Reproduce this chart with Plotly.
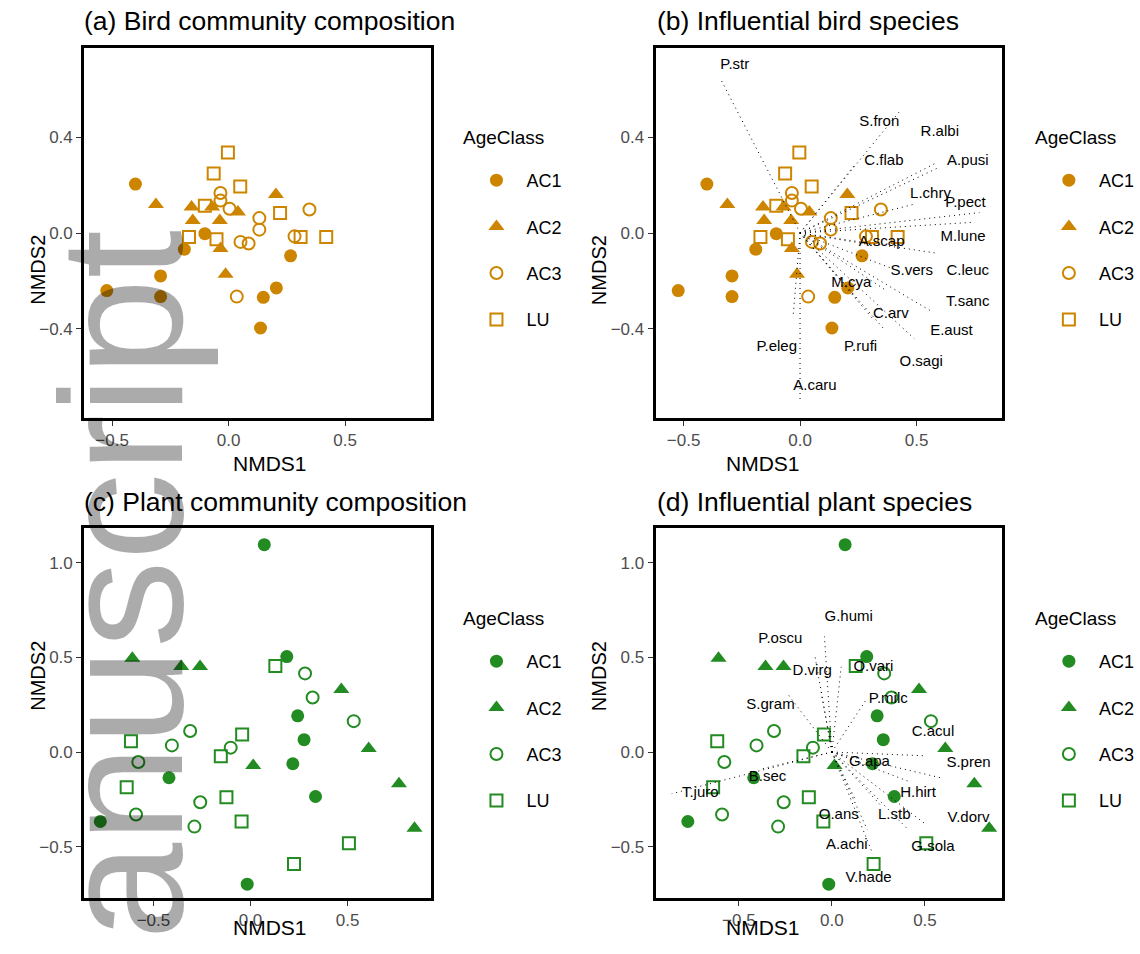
import plotly.graph_objects as go

ORANGE = "#CD8500"
GREEN = "#228B22"
FONT = "Liberation Sans, Arial, sans-serif"

groups = ["AC1", "AC2", "AC3", "LU"]

# ---- Bird NMDS site scores ----
bird_ac1_x = [-0.40, -0.523, -0.292, -0.292, -0.190, -0.102, 0.266, 0.205, 0.149, 0.137]
bird_ac1_y = [0.204, -0.240, -0.179, -0.265, -0.068, -0.003, -0.095, -0.229, -0.268, -0.396]
bird_ac2_x = [-0.312, -0.159, -0.154, -0.071, -0.038, 0.040, 0.203, -0.035, -0.013]
bird_ac2_y = [0.119, 0.108, 0.052, 0.108, 0.052, 0.087, 0.160, -0.065, -0.172]
bird_ac3_x = [-0.035, -0.035, 0.004, 0.132, 0.132, 0.051, 0.086, 0.347, 0.283, 0.035]
bird_ac3_y = [0.167, 0.135, 0.101, 0.062, 0.014, -0.037, -0.044, 0.098, -0.014, -0.265]
bird_lu_x = [-0.003, -0.064, 0.050, -0.102, -0.170, -0.052, 0.221, 0.309, 0.419]
bird_lu_y = [0.335, 0.248, 0.194, 0.114, -0.017, -0.026, 0.083, -0.017, -0.017]

# ---- Influential bird species (vector ends and label positions) ----
bird_species = ["P.str", "S.fron", "C.flab", "R.albi", "A.pusi", "L.chry", "P.pect", "M.lune",
                "A.scap", "C.leuc", "S.vers", "T.sanc", "E.aust", "O.sagi", "C.arv", "M.cya",
                "P.rufi", "P.eleg", "A.caru"]
bird_end_x = [-0.34, 0.43, 0.24, 0.58, 0.60, 0.49, 0.77, 0.75, 0.31, 0.58, 0.40, 0.57, 0.49,
              0.36, 0.31, 0.37, 0.25, -0.03, 0.0]
bird_end_y = [0.64, 0.51, 0.29, 0.29, 0.275, 0.12, 0.085, 0.045, -0.05, -0.083, -0.15, -0.33,
              -0.44, -0.40, -0.355, -0.24, -0.28, -0.35, -0.70]
bird_lab_x = [-0.28, 0.34, 0.36, 0.60, 0.72, 0.56, 0.71, 0.70, 0.35, 0.72, 0.48, 0.72, 0.65,
              0.52, 0.39, 0.22, 0.26, -0.10, 0.064]
bird_lab_y = [0.70, 0.46, 0.30, 0.42, 0.30, 0.16, 0.125, -0.017, -0.037, -0.16, -0.16, -0.29,
              -0.41, -0.54, -0.34, -0.21, -0.475, -0.475, -0.64]

# ---- Plant NMDS site scores ----
plant_ac1_x = [0.071, 0.187, 0.243, 0.276, 0.218, 0.335, -0.420, -0.774, -0.017]
plant_ac1_y = [1.095, 0.504, 0.191, 0.065, -0.062, -0.235, -0.136, -0.367, -0.698]
plant_ac2_x = [-0.609, -0.357, -0.260, 0.468, 0.609, 0.765, 0.845, 0.014]
plant_ac2_y = [0.495, 0.451, 0.451, 0.330, 0.018, -0.168, -0.403, -0.071]
plant_ac3_x = [0.281, 0.320, 0.532, -0.311, -0.405, -0.102, -0.578, -0.259, -0.590, -0.289]
plant_ac3_y = [0.415, 0.288, 0.163, 0.111, 0.035, 0.023, -0.053, -0.265, -0.330, -0.394]
plant_lu_x = [0.128, -0.616, -0.043, -0.153, -0.638, -0.124, -0.046, 0.507, 0.224]
plant_lu_y = [0.454, 0.057, 0.092, -0.023, -0.186, -0.239, -0.367, -0.482, -0.592]

# ---- Influential plant species ----
plant_species = ["G.humi", "P.oscu", "D.virg", "O.vari", "P.milc", "S.gram", "C.acul", "S.pren",
                 "G.apa", "B.sec", "T.juro", "H.hirt", "V.dorv", "O.ans", "L.stb", "A.achi",
                 "G.sola", "V.hade"]
plant_end_x = [-0.04, -0.09, -0.06, 0.05, 0.18, -0.24, 0.50, 0.60, 0.12, -0.38, -0.86, 0.425,
               0.495, 0.13, 0.27, 0.19, 0.40, 0.22]
plant_end_y = [0.61, 0.50, 0.33, 0.45, 0.27, 0.31, -0.02, -0.14, -0.04, -0.09, -0.22, -0.16,
               -0.375, -0.26, -0.29, -0.41, -0.40, -0.54]
plant_lab_x = [0.09, -0.277, -0.106, 0.223, 0.303, -0.33, 0.543, 0.734, 0.202, -0.346, -0.707,
               0.463, 0.734, 0.037, 0.335, 0.08, 0.543, 0.197]
plant_lab_y = [0.713, 0.597, 0.428, 0.449, 0.28, 0.248, 0.106, -0.058, -0.053, -0.132, -0.217,
               -0.217, -0.349, -0.333, -0.333, -0.491, -0.502, -0.666]

bird_sites = {"AC1": (bird_ac1_x, bird_ac1_y), "AC2": (bird_ac2_x, bird_ac2_y),
              "AC3": (bird_ac3_x, bird_ac3_y), "LU": (bird_lu_x, bird_lu_y)}
plant_sites = {"AC1": (plant_ac1_x, plant_ac1_y), "AC2": (plant_ac2_x, plant_ac2_y),
               "AC3": (plant_ac3_x, plant_ac3_y), "LU": (plant_lu_x, plant_lu_y)}

W, H = 1140, 954


def px_x(v):
    return v / W


def px_y(v):
    return 1 - v / H


def marker_for(group, color):
    if group == "AC1":
        return dict(symbol="circle", size=13, color=color, line=dict(width=0))
    if group == "AC2":
        return dict(symbol="triangle-up", size=14, color=color, line=dict(width=0))
    if group == "AC3":
        return dict(symbol="circle-open", size=12, color=color, line=dict(width=2, color=color))
    return dict(symbol="square-open", size=12, color=color, line=dict(width=2, color=color))


fig = go.Figure()

panels = [
    ("", bird_sites, ORANGE, "legend", None),
    ("2", bird_sites, ORANGE, "legend2", (bird_species, bird_end_x, bird_end_y, bird_lab_x, bird_lab_y)),
    ("3", plant_sites, GREEN, "legend3", None),
    ("4", plant_sites, GREEN, "legend4", (plant_species, plant_end_x, plant_end_y, plant_lab_x, plant_lab_y)),
]

for suffix, sites, color, legname, species in panels:
    xa = "x" + suffix
    ya = "y" + suffix
    for g in groups:
        xs, ys = sites[g]
        fig.add_trace(go.Scatter(
            x=xs, y=ys, mode="markers", name=g, marker=marker_for(g, color),
            xaxis=xa, yaxis=ya, legend=legname, legendgroup=legname + g,
            showlegend=True, hoverinfo="skip"))
    if species is not None:
        names, ex, ey, lx, ly = species
        seg_x, seg_y = [], []
        for a, b in zip(ex, ey):
            seg_x += [0, a, None]
            seg_y += [0, b, None]
        fig.add_trace(go.Scatter(
            x=seg_x, y=seg_y, mode="lines", xaxis=xa, yaxis=ya,
            line=dict(color="black", width=1, dash="1px,4px"),
            showlegend=False, hoverinfo="skip"))
        fig.add_trace(go.Scatter(
            x=lx, y=ly, mode="text", text=names, xaxis=xa, yaxis=ya,
            textfont=dict(family=FONT, size=15, color="black"),
            textposition="middle center", showlegend=False, hoverinfo="skip"))

left_dom = [85 / W, 435 / W]
right_dom = [662 / W, 1012 / W]
top_dom = [px_y(418), px_y(48)]
bot_dom = [px_y(898), px_y(528)]

axis_common = dict(showline=True, mirror=True, linewidth=3, linecolor="black",
                   ticks="outside", ticklen=5, tickwidth=1, tickcolor="#333333",
                   showgrid=False, zeroline=False, tickformat=".1f",
                   tickfont=dict(family=FONT, size=17, color="#4d4d4d"))

layout = dict(
    width=W, height=H, margin=dict(l=0, r=0, t=0, b=0),
    paper_bgcolor="white", plot_bgcolor="white",
    font=dict(family=FONT, color="black"),
    xaxis=dict(domain=left_dom, range=[-0.62, 0.868], dtick=0.5, anchor="y", **axis_common),
    yaxis=dict(domain=top_dom, range=[-0.771, 0.771], dtick=0.4, anchor="x", **axis_common),
    xaxis2=dict(domain=right_dom, range=[-0.62, 0.868], dtick=0.5, anchor="y2", **axis_common),
    yaxis2=dict(domain=top_dom, range=[-0.771, 0.771], dtick=0.4, anchor="x2", **axis_common),
    xaxis3=dict(domain=left_dom, range=[-0.857, 0.929], dtick=0.5, anchor="y3", **axis_common),
    yaxis3=dict(domain=bot_dom, range=[-0.771, 1.183], dtick=0.5, anchor="x3", **axis_common),
    xaxis4=dict(domain=right_dom, range=[-0.947, 0.915], dtick=0.5, anchor="y4", **axis_common),
    yaxis4=dict(domain=bot_dom, range=[-0.771, 1.183], dtick=0.5, anchor="x4", **axis_common),
)

legend_pos = {"legend": (471, 162), "legend2": (1049, 162), "legend3": (471, 643), "legend4": (1049, 643)}
for name, (lx, ly) in legend_pos.items():
    layout[name] = dict(
        x=px_x(lx), y=px_y(ly), xanchor="left", yanchor="top",
        font=dict(family=FONT, size=18, color="black"),
        bgcolor="rgba(0,0,0,0)", tracegroupgap=20, itemwidth=50)

fig.update_layout(**layout)

annotations = []
titles = [("(a) Bird community composition", 83, 21), ("(b) Influential bird species", 661, 21),
          ("(c) Plant community composition", 83, 502), ("(d) Influential plant species", 661, 502)]
for text, x, y in titles:
    annotations.append(dict(text=text, x=px_x(x), y=px_y(y), xref="paper", yref="paper",
                            xanchor="left", yanchor="middle", showarrow=False,
                            font=dict(family=FONT, size=26.5, color="black")))
for cx, cy in [(233, 463), (810, 463), (233, 941), (810, 941)]:
    annotations.append(dict(text="NMDS1", x=px_x(cx), y=px_y(cy), xref="paper", yref="paper",
                            showarrow=False, font=dict(family=FONT, size=21, color="black")))
for cx, cy in [(25, 233), (605, 233), (25, 713), (605, 713)]:
    annotations.append(dict(text="NMDS2", x=px_x(cx), y=px_y(cy), xref="paper", yref="paper",
                            showarrow=False, textangle=-90,
                            font=dict(family=FONT, size=20, color="black")))
for lx, ly in [(465, 137), (1043, 137), (465, 618), (1043, 618)]:
    annotations.append(dict(text="AgeClass", x=px_x(lx), y=px_y(ly), xref="paper", yref="paper",
                            xanchor="left", yanchor="middle", showarrow=False,
                            font=dict(family=FONT, size=19, color="black")))
# watermark
annotations.append(dict(text="Manuscript", x=px_x(122), y=px_y(658), xref="paper", yref="paper",
                        showarrow=False, textangle=-90, xanchor="center", yanchor="middle",
                        font=dict(family=FONT, size=175, color="rgba(0,0,0,0.33)")))
fig.update_layout(annotations=annotations)

fig.write_html("out.html", config={"displayModeBar": False},
               post_script="document.body.style.margin='0px';")
